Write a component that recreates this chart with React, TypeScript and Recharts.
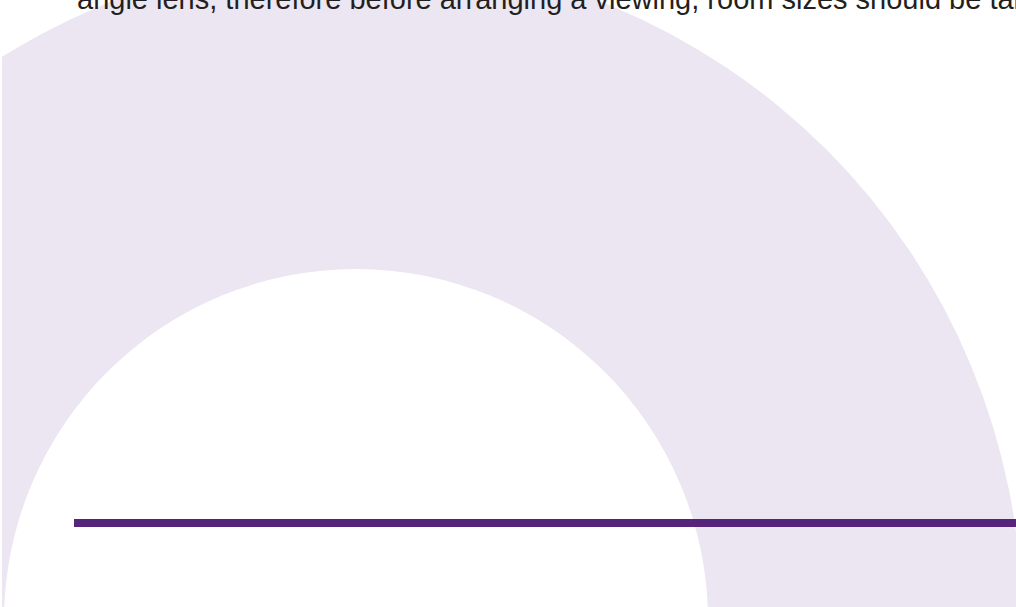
import { PieChart, Pie, Cell, LineChart, Line, XAxis, YAxis } from "recharts";

// the big lavender arc: one slice
const arcSlices = [{ name: "arc", value: 1 }];
// the purple rule under the arc
const ruleX = [0, 1];
const ruleLevel = 1;
const caption =
  "angle lens, therefore before arranging a viewing, room sizes should be taken";

const ruleData = ruleX.map((x) => ({ x, y: ruleLevel }));

export default function App() {
  return (
    <div
      style={{
        position: "fixed",
        left: 0,
        top: 0,
        width: 1016,
        height: 607,
        overflow: "hidden",
        background: "#FFFFFF",
      }}
    >
      <div style={{ position: "absolute", left: 2, top: 0, width: 1014, height: 607, overflow: "hidden" }}>
        <PieChart width={1014} height={607} margin={{ top: 0, right: 0, bottom: 0, left: 0 }}>
          <Pie
            data={arcSlices}
            dataKey="value"
            cx={354}
            cy={621}
            innerRadius={352}
            outerRadius={666}
            startAngle={180}
            endAngle={0}
            stroke="none"
            isAnimationActive={false}
          >
            {arcSlices.map((s) => (
              <Cell key={s.name} fill="#EBE6F2" />
            ))}
          </Pie>
        </PieChart>
      </div>
      <div style={{ position: "absolute", left: 0, top: 0 }}>
        <LineChart
          width={1016}
          height={607}
          data={ruleData}
          margin={{ top: 523, right: -20, bottom: 0, left: 74 }}
        >
          <XAxis dataKey="x" type="number" domain={[0, 1]} hide />
          <YAxis type="number" domain={[0, 1]} hide />
          <Line
            dataKey="y"
            stroke="#56247B"
            strokeWidth={8}
            strokeLinecap="butt"
            dot={false}
            isAnimationActive={false}
          />
        </LineChart>
      </div>
      <div
        style={{
          position: "absolute",
          left: 77,
          top: -16.8,
          fontFamily: "'Liberation Sans', Arial, sans-serif",
          fontSize: 29,
          lineHeight: "normal",
          color: "#231F20",
          whiteSpace: "nowrap",
        }}
      >
        {caption}
      </div>
    </div>
  );
}
